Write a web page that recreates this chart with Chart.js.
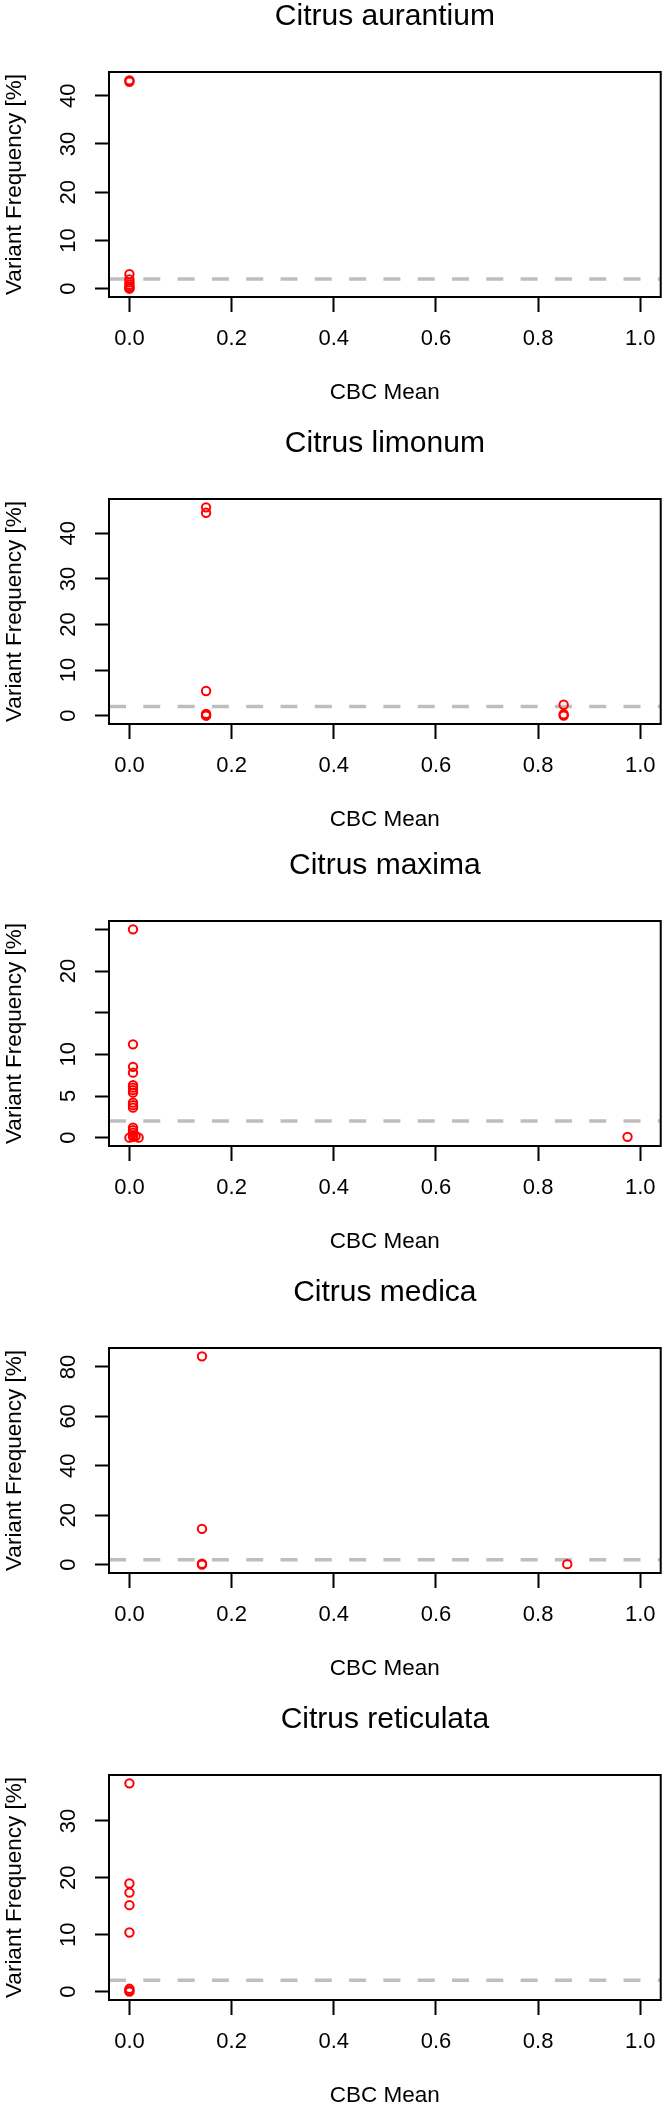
<!DOCTYPE html>
<html lang="en">
<head>
<meta charset="UTF-8">
<title>Variant Frequency vs CBC Mean</title>
<script src="https://cdn.jsdelivr.net/npm/chart.js"></script>
<style>
  html, body { margin: 0; padding: 0; background: #fff; overflow: hidden; }
  body { width: 672px; height: 2111px; position: relative; }
  canvas { position: absolute; left: 0; }
</style>
</head>
<body>
<canvas id="c0" width="672" height="405"></canvas>
<canvas id="c1" width="672" height="405"></canvas>
<canvas id="c2" width="672" height="405"></canvas>
<canvas id="c3" width="672" height="405"></canvas>
<canvas id="c4" width="672" height="405"></canvas>

<script>
const species = ['Citrus aurantium', 'Citrus limonum', 'Citrus maxima', 'Citrus medica', 'Citrus reticulata'];

// CBC mean (x) and variant frequency in % (y)
const aurantiumX = [0, 0, 0, 0, 0, 0, 0, 0, 0];
const aurantiumY = [43.2, 42.9, 3.0, 1.9, 1.3, 0.8, 0.4, 0.1, 0.0];

const limonumX = [0.15, 0.15, 0.15, 0.15, 0.15, 0.15, 0.85, 0.85, 0.85];
const limonumY = [45.7, 44.5, 5.4, 0.4, 0.1, 0.0, 2.4, 0.3, 0.0];

const maximaX = [0.007, 0.007, 0.007, 0.007, 0.007, 0.007, 0.007, 0.007, 0.007, 0.007, 0.007,
                 0.007, 0.007, 0.007, 0.007, 0.007, 0.0, 0.012, 0.018, 0.975];
const maximaY = [25.0, 11.2, 8.5, 7.8, 6.3, 6.0, 5.7, 5.4, 4.2, 3.9, 3.6,
                 1.2, 0.9, 0.6, 0.3, 0.1, 0.0, 0.2, 0.0, 0.1];

const medicaX = [0.142, 0.142, 0.142, 0.142, 0.857];
const medicaY = [84.3, 14.5, 0.4, 0.0, 0.2];

const reticulataX = [0, 0, 0, 0, 0, 0, 0, 0];
const reticulataY = [36.6, 19.0, 17.4, 15.2, 10.4, 0.5, 0.2, 0.0];

const threshold = 2;   // dashed reference line, in %

const xTicks = [0, 0.2, 0.4, 0.6, 0.8, 1.0];
const xTickLabels = ['0.0', '0.2', '0.4', '0.6', '0.8', '1.0'];

const yTicks = [
  [0, 10, 20, 30, 40],
  [0, 10, 20, 30, 40],
  [0, 5, 10, 15, 20, 25],
  [0, 20, 40, 60, 80],
  [0, 10, 20, 30]
];
const yTickLabels = [
  ['0', '10', '20', '30', '40'],
  ['0', '10', '20', '30', '40'],
  ['0', '5', '10', '', '20', ''],
  ['0', '20', '40', '60', '80'],
  ['0', '10', '20', '30']
];

const seriesX = [aurantiumX, limonumX, maximaX, medicaX, reticulataX];
const seriesY = [aurantiumY, limonumY, maximaY, medicaY, reticulataY];

// page layout
const canvasTops = [2, 429, 851, 1278, 1705];
const FONT = '"Liberation Sans", Arial, Helvetica, sans-serif';

Chart.defaults.font.family = FONT;
Chart.defaults.color = '#000';

// R-style range: data range widened by 4% on each side
function rRange(lo, hi) {
  const pad = (hi - lo) * 0.04;
  return [lo - pad, hi + pad];
}
const [xMin, xMax] = rRange(0, 1);

const boxPlugin = {
  id: 'box',
  afterDatasetsDraw(chart) {
    const { ctx, chartArea: a } = chart;
    ctx.save();
    ctx.strokeStyle = '#000';
    ctx.lineWidth = 2;
    ctx.strokeRect(a.left, a.top, a.right - a.left, a.bottom - a.top);
    ctx.restore();
  }
};

// y tick labels written parallel to the axis, like R's default las=0
const yLabelPlugin = {
  id: 'yLabels',
  afterDraw(chart, args, opts) {
    const s = chart.scales.y;
    const ctx = chart.ctx;
    ctx.save();
    ctx.font = '22px ' + FONT;
    ctx.fillStyle = '#000';
    ctx.textAlign = 'center';
    ctx.textBaseline = 'middle';
    s.ticks.forEach((t, i) => {
      const label = opts.labels[i];
      if (!label) return;
      ctx.save();
      ctx.translate(opts.x, s.getPixelForValue(t.value));
      ctx.rotate(-Math.PI / 2);
      ctx.fillText(label, 0, 0);
      ctx.restore();
    });
    ctx.restore();
  }
};

for (let p = 0; p < 5; p++) {
  const canvas = document.getElementById('c' + p);
  canvas.style.top = canvasTops[p] + 'px';

  const xs = seriesX[p];
  const ys = seriesY[p];
  const [yMin, yMax] = rRange(Math.min(...ys), Math.max(...ys));

  new Chart(canvas.getContext('2d'), {
    type: 'scatter',
    data: {
      datasets: [
        {
          data: xs.map((x, i) => ({ x: x, y: ys[i] })),
          pointRadius: 4.2,
          pointBorderWidth: 2,
          pointBorderColor: '#ff0000',
          borderColor: '#ff0000',
          pointBackgroundColor: 'rgba(0,0,0,0)',
          backgroundColor: 'rgba(0,0,0,0)',
          clip: false,
          order: 1
        },
        {
          data: [{ x: xMin, y: threshold }, { x: xMax, y: threshold }],
          showLine: true,
          borderColor: '#bebebe',
          borderWidth: 3.5,
          borderDash: [17, 17.3],
          borderCapStyle: 'butt',
          pointRadius: 0,
          order: 2
        }
      ]
    },
    options: {
      responsive: false,
      animation: false,
      events: [],
      layout: { padding: { left: 0, right: 8, top: 0, bottom: 0 } },
      plugins: {
        legend: { display: false },
        tooltip: { enabled: false },
        title: {
          display: true,
          text: species[p],
          fullSize: false,
          color: '#000',
          font: { size: 30, weight: 'normal', lineHeight: 1 },
          padding: { top: 0, bottom: 40 }
        },
        yLabels: { labels: yTickLabels[p], x: 69 }
      },
      scales: {
        x: {
          type: 'linear',
          min: xMin,
          max: xMax,
          afterBuildTicks: s => { s.ticks = xTicks.map(v => ({ value: v })); },
          afterFit: s => { s.height = 110; },
          border: { display: false },
          grid: { drawOnChartArea: false, tickLength: 15, tickWidth: 2, tickColor: '#000' },
          ticks: {
            autoSkip: false, minRotation: 0, maxRotation: 0, padding: 16,
            color: '#000', font: { size: 22, lineHeight: 1 },
            callback: (v, i) => xTickLabels[i]
          },
          title: {
            display: true, text: 'CBC Mean', color: '#000',
            font: { size: 22.5, lineHeight: 1 },
            padding: { top: 0, bottom: 2.75 }
          }
        },
        y: {
          type: 'linear',
          min: yMin,
          max: yMax,
          afterBuildTicks: s => { s.ticks = yTicks[p].map(v => ({ value: v })); },
          afterFit: s => { s.width = 109; },
          border: { display: false },
          grid: { drawOnChartArea: false, tickLength: 14, tickWidth: 2, tickColor: '#000' },
          ticks: { display: false },
          title: {
            display: true, text: 'Variant Frequency [%]', color: '#000',
            font: { size: 22.5, lineHeight: 1 },
            padding: { top: 4, bottom: 0 }
          }
        }
      }
    },
    plugins: [boxPlugin, yLabelPlugin]
  });
}
</script>
</body>
</html>
